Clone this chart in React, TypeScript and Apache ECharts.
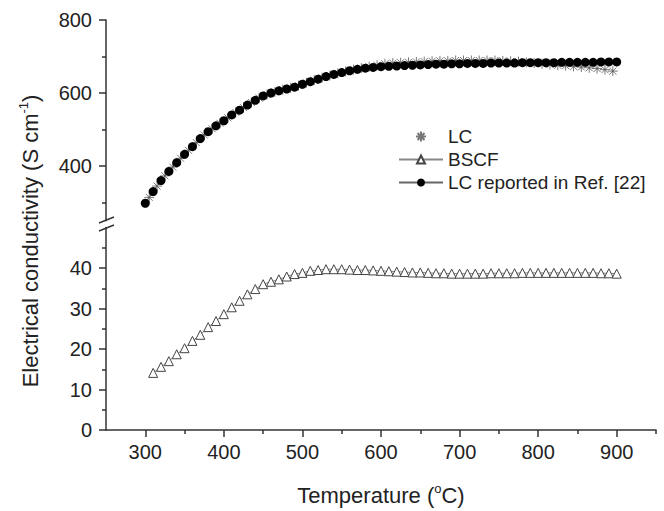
import React, { useEffect, useRef } from "react";
import * as echarts from "echarts";

// ---------- data ----------
const refTemps = [300, 310, 320, 330, 340, 350, 360, 370, 380, 390, 400, 410, 420, 430, 440, 450, 460, 470, 480, 490, 500, 510, 520, 530, 540, 550, 560, 570, 580, 590, 600, 610, 620, 630, 640, 650, 660, 670, 680, 690, 700, 710, 720, 730, 740, 750, 760, 770, 780, 790, 800, 810, 820, 830, 840, 850, 860, 870, 880, 890, 900];
const refValues = [298, 330, 360, 385, 409, 432, 453, 475, 494, 510, 524, 540, 553, 567, 580, 592, 600, 606, 611, 616, 624, 631, 638, 645, 651, 656, 661, 665, 668, 670, 672, 673, 674, 675, 676, 677, 678, 679, 679, 680, 680, 681, 681, 681, 682, 682, 682, 682, 683, 683, 683, 683, 683, 684, 684, 684, 684, 684, 685, 685, 685];

const lcTemps = [305, 315, 325, 335, 345, 355, 365, 375, 385, 395, 405, 415, 425, 435, 445, 455, 465, 475, 485, 495, 505, 515, 525, 535, 545, 555, 565, 575, 585, 595, 605, 615, 625, 635, 645, 655, 665, 675, 685, 695, 705, 715, 725, 735, 745, 755, 765, 775, 785, 795, 805, 815, 825, 835, 845, 855, 865, 875, 885, 895];
const lcValues = [314, 345, 373, 397, 421, 443, 464, 485, 502, 517, 532, 547, 560, 574, 586, 596, 603, 609, 614, 620, 628, 635, 642, 648, 654, 659, 664, 668, 672, 676, 680, 682, 683, 684, 685, 686, 687, 688, 688, 689, 689, 689, 689, 689, 689, 688, 687, 686, 684, 682, 680, 678, 676, 675, 673, 671, 669, 667, 664, 660];

const bscfTemps = [310, 320, 330, 340, 350, 360, 370, 380, 390, 400, 410, 420, 430, 440, 450, 460, 470, 480, 490, 500, 510, 520, 530, 540, 550, 560, 570, 580, 590, 600, 610, 620, 630, 640, 650, 660, 670, 680, 690, 700, 710, 720, 730, 740, 750, 760, 770, 780, 790, 800, 810, 820, 830, 840, 850, 860, 870, 880, 890, 900];
const bscfValues = [14.1, 15.6, 17.0, 18.7, 20.2, 22.0, 23.5, 25.4, 26.9, 28.6, 30.3, 31.9, 33.5, 34.8, 36.0, 36.6, 37.2, 37.9, 38.5, 38.8, 39.3, 39.5, 39.7, 39.7, 39.7, 39.6, 39.5, 39.5, 39.4, 39.3, 39.2, 39.1, 39.0, 38.9, 38.9, 38.8, 38.7, 38.7, 38.6, 38.6, 38.6, 38.6, 38.6, 38.7, 38.7, 38.7, 38.7, 38.8, 38.8, 38.8, 38.8, 38.8, 38.8, 38.8, 38.8, 38.8, 38.8, 38.7, 38.7, 38.6];

const xLabelTicks = [300, 400, 500, 600, 700, 800, 900];
const xMinorTicks = [350, 450, 550, 650, 750, 850, 950];
const upperLabelTicks = [400, 600, 800];
const upperMinorTicks = [300, 500, 700];
const lowerLabelTicks = [0, 10, 20, 30, 40];
const lowerMinorTicks = [5, 15, 25, 35, 45];

const seriesNames = ["LC", "BSCF", "LC reported in Ref. [22]"];

const FONT = "'Liberation Sans', Arial, Helvetica, sans-serif";
const TXT = "#222";
const AX = "#333";

const asterisk = "path://M5,0L5,10M0,5L10,5M1.5,1.5L8.5,8.5M1.5,8.5L8.5,1.5";

export default function App() {
  const ref = useRef<HTMLDivElement>(null);
  useEffect(() => {
    if (!ref.current) return;
    const chart = echarts.init(ref.current, undefined, { renderer: "svg" });
    const zip = (xs: number[], ys: number[]) => xs.map((x, i) => [x, ys[i]]);

    const axisLine = { show: true, lineStyle: { color: AX, width: 1.5 } };
    const lab = { color: TXT, fontFamily: FONT, fontSize: 20 };
    const tickStyle = { color: AX, width: 1.5 };

    const xBase = { type: "value", min: 250, max: 950, splitLine: { show: false }, position: "bottom" };
    const yBase = { type: "value", splitLine: { show: false }, position: "left" };
    const option: any = {
      animation: false,
      backgroundColor: "#fff",
      grid: [
        { left: 106, right: 8, top: 20, bottom: 290.25 },
        { left: 106, right: 8, top: 227.5, bottom: 81 },
      ],
      xAxis: [
        { ...xBase, gridIndex: 0, show: false },
        {
          ...xBase,
          gridIndex: 1,
          axisLine,
          axisTick: { customValues: xLabelTicks, length: 7, lineStyle: tickStyle },
          axisLabel: { ...lab, customValues: xLabelTicks, margin: 12 },
          name: "{n|Temperature (}{s|o}{n|C)}",
          nameLocation: "middle",
          nameGap: 52,
          nameTextStyle: {
            rich: {
              n: { fontFamily: FONT, fontSize: 22, color: TXT, lineHeight: 26 },
              s: { fontFamily: FONT, fontSize: 13, color: TXT, verticalAlign: "top", lineHeight: 26 },
            },
          },
        },
        {
          ...xBase,
          gridIndex: 1,
          axisLine: { show: false },
          axisTick: { customValues: xMinorTicks, length: 4, lineStyle: tickStyle },
          axisLabel: { show: false },
        },
      ],
      yAxis: [
        {
          ...yBase, gridIndex: 0, min: 250, max: 800,
          axisLine,
          axisTick: { customValues: upperLabelTicks, length: 7, lineStyle: tickStyle },
          axisLabel: { ...lab, customValues: upperLabelTicks, margin: 14 },
        },
        {
          ...yBase, gridIndex: 0, min: 250, max: 800,
          axisLine: { show: false },
          axisTick: { customValues: upperMinorTicks, length: 4, lineStyle: tickStyle },
          axisLabel: { show: false },
        },
        {
          ...yBase, gridIndex: 1, min: 0, max: 50,
          axisLine,
          axisTick: { customValues: lowerLabelTicks, length: 7, lineStyle: tickStyle },
          axisLabel: { ...lab, customValues: lowerLabelTicks, margin: 14 },
        },
        {
          ...yBase, gridIndex: 1, min: 0, max: 50,
          axisLine: { show: false },
          axisTick: { customValues: lowerMinorTicks, length: 4, lineStyle: tickStyle },
          axisLabel: { show: false },
        },
      ],
      legend: {
        orient: "vertical",
        left: 398,
        top: 127,
        padding: 0,
        itemWidth: 44,
        itemHeight: 10,
        itemGap: 4,
        textStyle: { color: TXT, fontFamily: FONT, fontSize: 19 },
        data: seriesNames,
      },
      graphic: [
        {
          type: "text",
          x: 30,
          y: 241,
          rotation: Math.PI / 2,
          style: {
            text: "{n|Electrical conductivity (S cm}{s|-1}{n|)}",
            align: "center",
            verticalAlign: "middle",
            rich: {
              n: { fontFamily: FONT, fontSize: 22, fill: TXT, lineHeight: 26 },
              s: { fontFamily: FONT, fontSize: 13, fill: TXT, verticalAlign: "top", lineHeight: 26 },
            },
          },
        },
        { type: "line", shape: { x1: 99, y1: 223, x2: 114, y2: 217 }, style: { stroke: AX, lineWidth: 1.5 } },
        { type: "line", shape: { x1: 99, y1: 231, x2: 114, y2: 225 }, style: { stroke: AX, lineWidth: 1.5 } },
      ],
      series: [
        {
          name: seriesNames[0],
          type: "scatter",
          xAxisIndex: 0,
          yAxisIndex: 0,
          symbol: asterisk,
          symbolSize: 10,
          itemStyle: { color: "rgba(0,0,0,0)", borderColor: "#555", borderWidth: 1 },
          data: zip(lcTemps, lcValues),
        },
        {
          name: seriesNames[1],
          type: "line",
          xAxisIndex: 1,
          yAxisIndex: 2,
          symbol: "triangle",
          symbolSize: 9,
          showAllSymbol: true,
          itemStyle: { color: "#fff", borderColor: "#444", borderWidth: 1 },
          lineStyle: { color: "#888", width: 1 },
          data: zip(bscfTemps, bscfValues),
        },
        {
          name: seriesNames[2],
          type: "line",
          xAxisIndex: 0,
          yAxisIndex: 0,
          symbol: "circle",
          symbolSize: 9,
          showAllSymbol: true,
          itemStyle: { color: "#000" },
          lineStyle: { color: "#666", width: 1 },
          data: zip(refTemps, refValues),
        },
      ],
    };
    chart.setOption(option);
    return () => chart.dispose();
  }, []);
  return <div ref={ref} style={{ width: 664, height: 511, position: "absolute", left: 0, top: 0 }} />;
}
